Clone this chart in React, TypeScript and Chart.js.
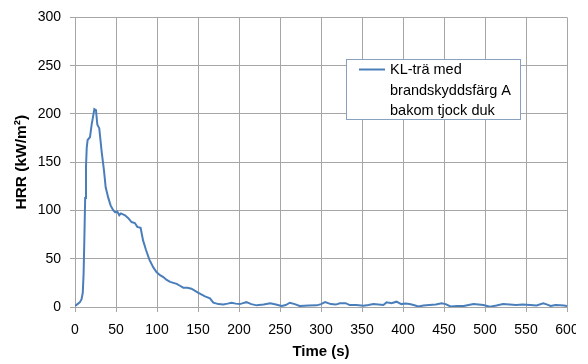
import React, { useEffect, useRef } from "react";
import { Chart, registerables } from "chart.js";

Chart.register(...registerables);

const timeSeconds = [
  0, 3, 6, 8, 9.5, 10.5, 11.4, 12.4, 13.4, 14.3, 15.4, 18.3, 20.3, 22.4, 23.6, 25.6, 27.2, 29.6,
  32.5, 35.4, 37.4, 40.6, 43.5, 46.8, 49, 51.6, 54, 56, 61, 65, 69, 73, 76, 80, 83, 86.6, 90.7,
  95.5, 99.6, 103.7, 107.7, 111.8, 116, 120, 124, 128, 132, 137, 142, 146, 150, 154, 158.5, 164.6,
  168.7, 175, 181, 186, 191, 196, 201, 205, 209, 215, 221.5, 230, 238, 245, 252, 257, 262, 268,
  274, 285, 295, 300, 305, 312, 318, 323, 330, 335, 343, 351.6, 358, 363.8, 370, 376, 380, 386,
  392, 398, 403, 408, 413, 418.7, 425, 432, 440, 447, 452, 458, 466, 474, 480, 486, 492, 498,
  506, 514, 522, 530, 538, 546, 555, 563, 571, 576, 580, 586, 592, 596, 600,
];

const hrrValues = [
  1, 3, 5, 8, 15, 35, 70, 113, 145, 165, 173, 176, 189, 199, 205, 204, 189, 185,
  161, 141, 124, 113, 105, 100, 98, 99, 95, 97, 95, 92, 88, 87, 83, 82, 69, 59, 49,
  41, 36, 33, 31, 28, 26, 25, 24, 22, 20, 20, 19, 17, 15, 13, 11, 9,
  4.5, 3, 2.7, 3.5, 4.4, 3.5, 3, 4, 5, 3, 1.7, 2.5, 3.8, 2.5, 1, 2, 4.4, 3,
  1, 1.5, 1.7, 3, 5, 3, 2.5, 3.8, 4, 2, 2, 1.4, 2, 3, 2.5, 2, 4.8, 4,
  5.5, 3, 3.5, 3, 2, 0.5, 1.5, 2, 2.5, 3.8, 3, 0.5, 1, 1, 2, 3, 2.5, 2,
  0.3, 1.5, 3, 2.5, 2, 2.5, 2, 1.5, 3.8, 2.5, 1, 2, 1.7, 1.5, 1,
];

const xTicks = [0, 50, 100, 150, 200, 250, 300, 350, 400, 450, 500, 550, 600];
const yTicks = [0, 50, 100, 150, 200, 250, 300];

const legendLines = ["KL-trä med", "brandskyddsfärg A", "bakom tjock duk"];
const xTitle = "Time (s)";
const yTitle = "HRR (kW/m²)";

const LINE_COLOR = "#4a7ebb";
const GRID_COLOR = "#a6a6a6";
const FONT = "'Liberation Sans', Arial, sans-serif";

const legendPlugin = {
  id: "boxLegend",
  afterDraw(chart: any) {
    const ctx = chart.ctx;
    const x0 = 346.5;
    const y0 = 59.5;
    const w = 174;
    const h = 60;
    ctx.save();
    ctx.fillStyle = "#ffffff";
    ctx.fillRect(x0, y0, w, h);
    ctx.strokeStyle = "#8aa0c0";
    ctx.lineWidth = 1;
    ctx.strokeRect(x0, y0, w, h);
    ctx.strokeStyle = LINE_COLOR;
    ctx.lineWidth = 2;
    ctx.beginPath();
    ctx.moveTo(359, 69.5);
    ctx.lineTo(385, 69.5);
    ctx.stroke();
    ctx.fillStyle = "#000000";
    ctx.font = `14.5px ${FONT}`;
    ctx.textBaseline = "middle";
    ctx.textAlign = "left";
    legendLines.forEach((t, i) => {
      ctx.fillText(t, 390, 70 + i * 20.5);
    });
    ctx.restore();
  },
};

export default function App() {
  const ref = useRef<HTMLCanvasElement | null>(null);
  useEffect(() => {
    if (!ref.current) return;
    const points = timeSeconds.map((t, i) => ({ x: t, y: hrrValues[i] }));
    const chart = new Chart(ref.current, {
      type: "line",
      data: {
        datasets: [
          {
            label: legendLines.join(" "),
            data: points,
            borderColor: LINE_COLOR,
            backgroundColor: LINE_COLOR,
            borderWidth: 2,
            pointRadius: 0,
            tension: 0,
            fill: false,
          },
        ],
      },
      options: {
        responsive: false,
        animation: false,
        layout: { padding: { top: 15, right: 21, left: 0, bottom: 0 } },
        plugins: {
          legend: { display: false },
          tooltip: { enabled: false },
        },
        scales: {
          x: {
            type: "linear",
            min: 0,
            max: 600,
            afterBuildTicks: (s: any) => {
              s.ticks = xTicks.map((v) => ({ value: v }));
            },
            afterFit: (s: any) => {
              s.height = 57;
              s.paddingLeft = 0;
              s.paddingRight = 0;
            },
            grid: { color: GRID_COLOR, tickLength: 5, lineWidth: 1 },
            border: { color: GRID_COLOR },
            ticks: {
              color: "#000",
              font: { family: FONT, size: 14 },
              padding: 10,
              maxRotation: 0,
              autoSkip: false,
            },
            title: {
              display: true,
              text: xTitle,
              color: "#000",
              font: { family: FONT, size: 15, weight: "bold" },
              padding: { top: 0, bottom: 3 },
            },
          },
          y: {
            type: "linear",
            min: 0,
            max: 300,
            afterBuildTicks: (s: any) => {
              s.ticks = yTicks.map((v) => ({ value: v }));
            },
            afterFit: (s: any) => {
              s.width = 75;
            },
            grid: { color: GRID_COLOR, tickLength: 5, lineWidth: 1 },
            border: { color: GRID_COLOR },
            ticks: {
              color: "#000",
              font: { family: FONT, size: 14 },
              padding: 9,
              autoSkip: false,
            },
            title: {
              display: true,
              text: yTitle,
              color: "#000",
              font: { family: FONT, size: 15.5, weight: "bold" },
              padding: { top: 12, bottom: 0 },
            },
          },
        },
      },
      plugins: [legendPlugin],
    });
    return () => chart.destroy();
  }, []);
  return (
    <div style={{ position: "fixed", left: 0, top: 0, width: 588, height: 364, background: "#fff", overflow: "hidden" }}>
      <canvas ref={ref} width={588} height={364} style={{ width: 588, height: 364 }} />
      <div style={{ position: "absolute", left: 576, top: 0, width: 12, height: 364, background: "#fff" }} />
    </div>
  );
}
